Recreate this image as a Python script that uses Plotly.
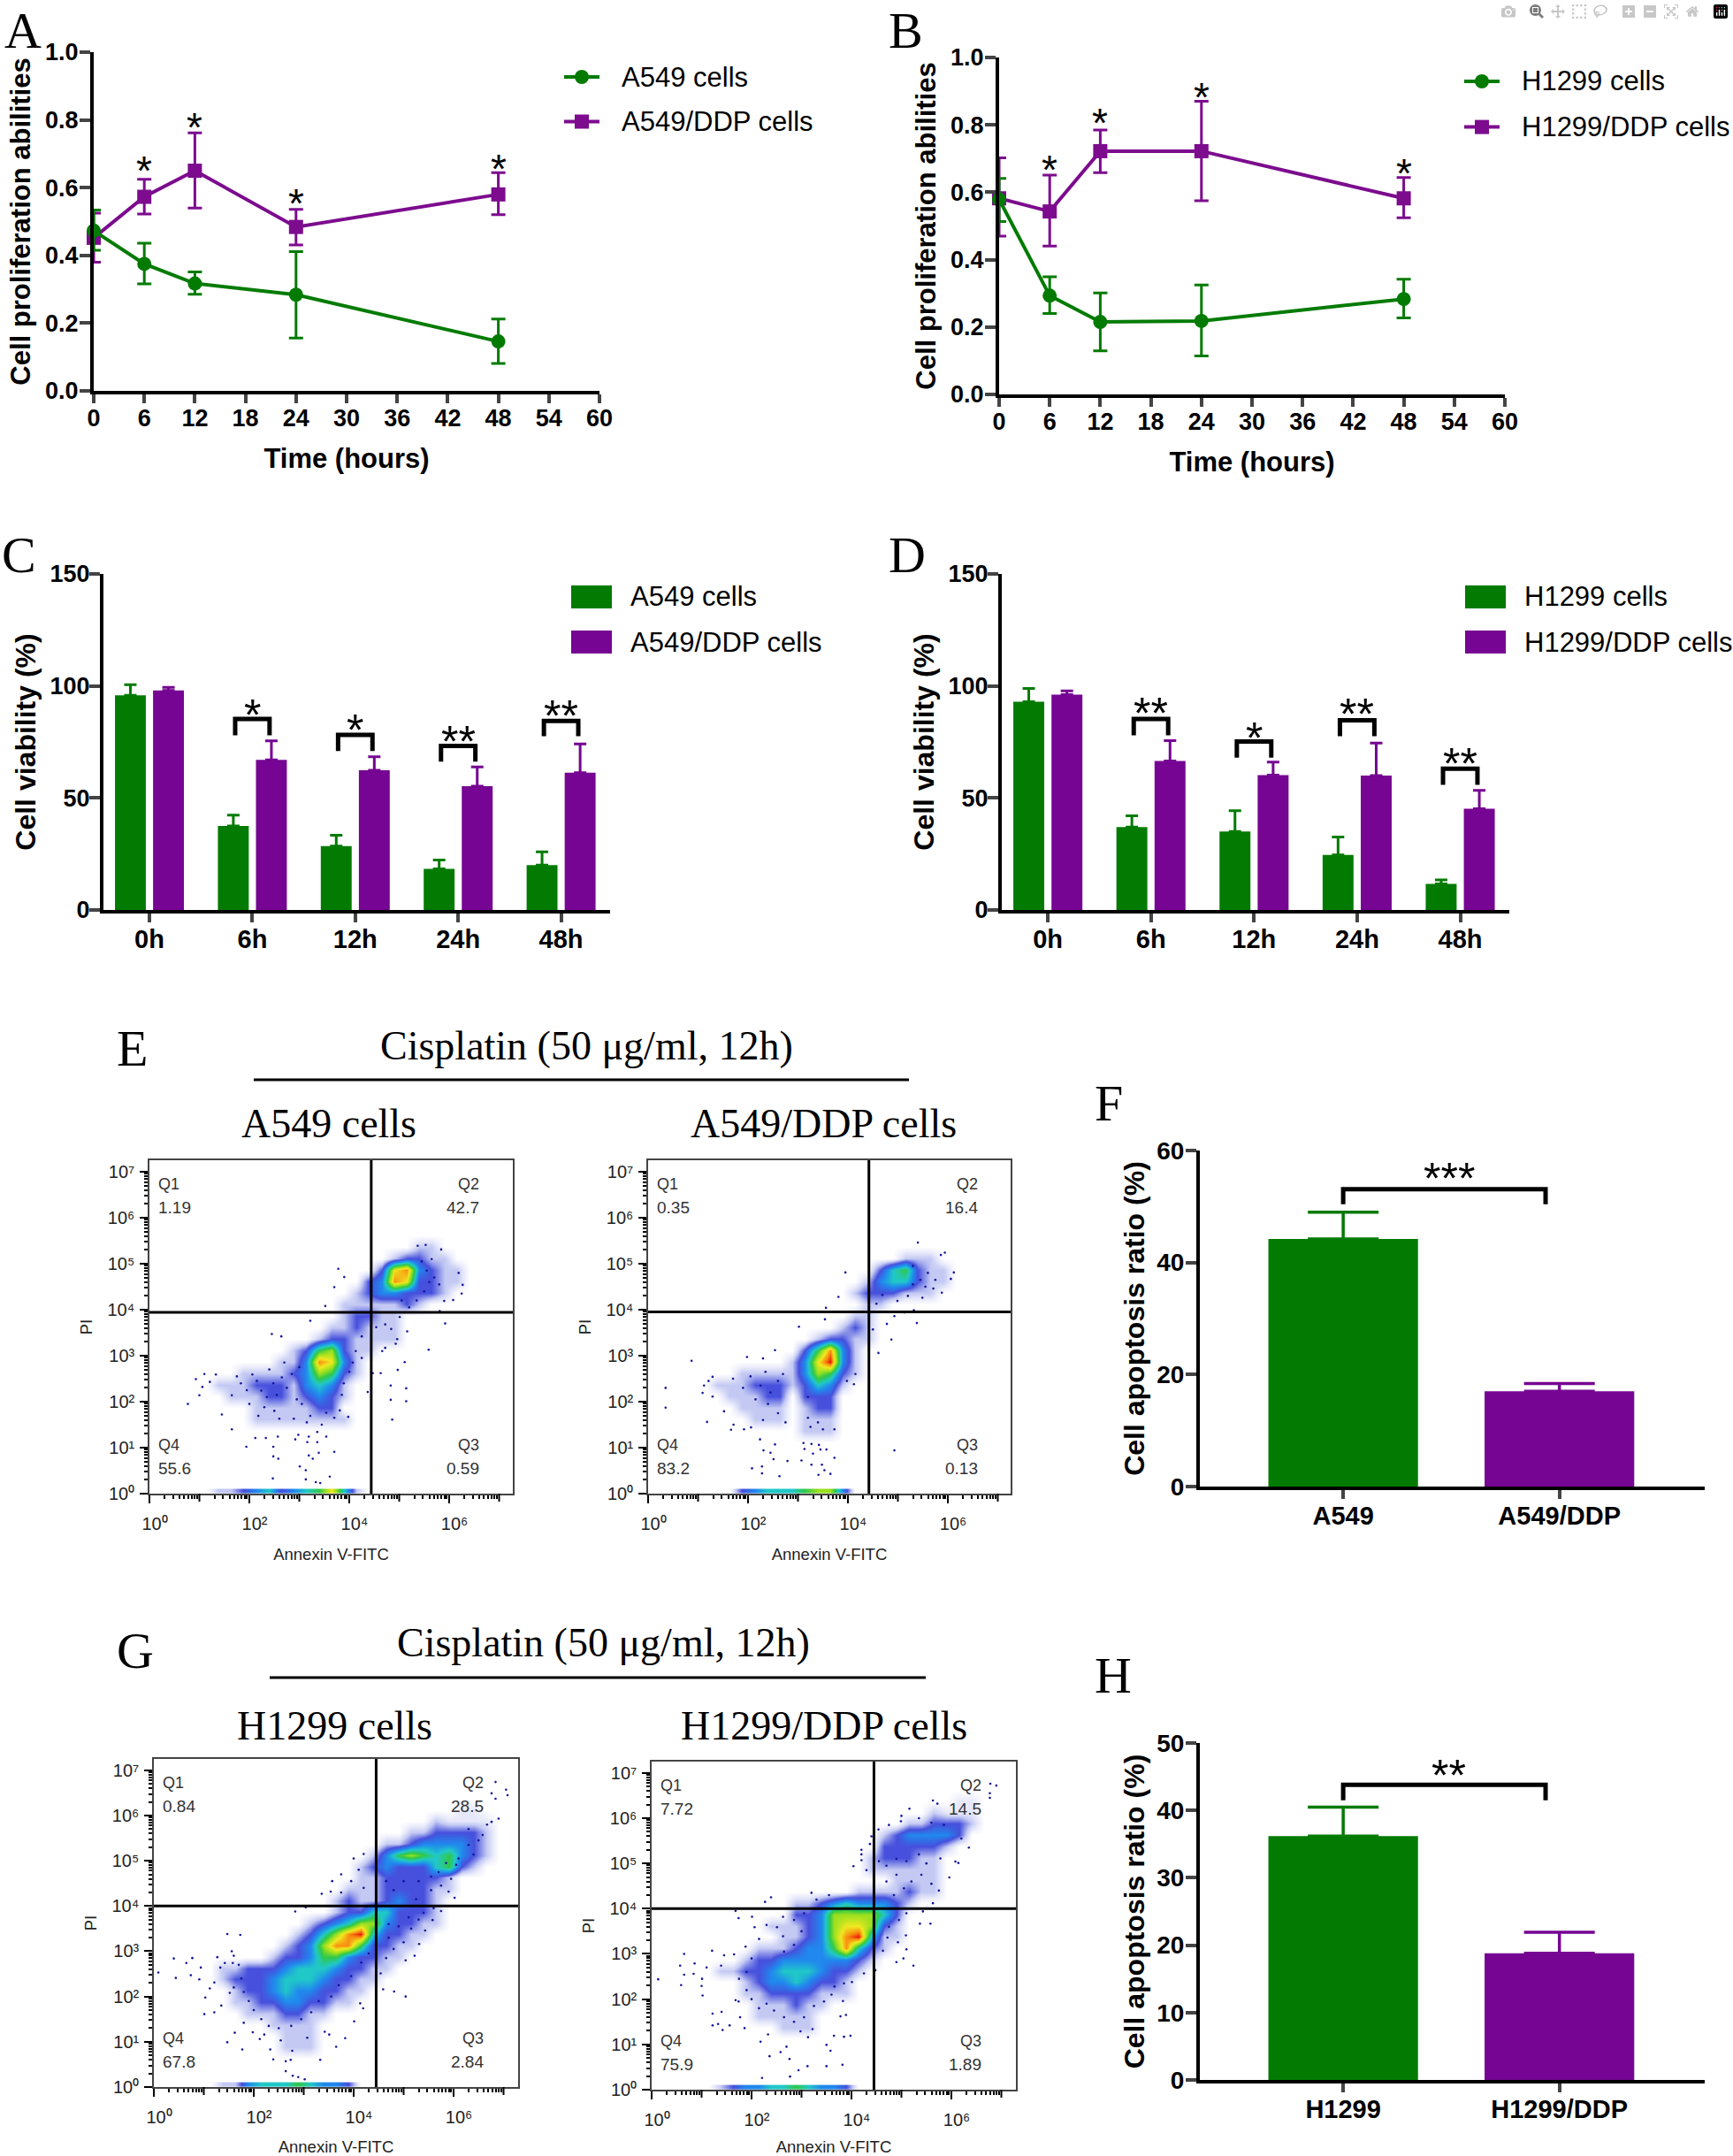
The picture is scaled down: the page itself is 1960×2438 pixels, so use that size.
import math
import plotly.graph_objects as go

W, H = 1960, 2438
GREEN = "#037b03"
PURPLE = "#750592"
LINE_PURPLE = "#7c0b8e"
SANS = "Liberation Sans"
SERIF = "Liberation Serif"

# ---------- panels A / B: proliferation ----------
hours = [0, 6, 12, 24, 48]
a_green = [0.473, 0.375, 0.317, 0.284, 0.146]
a_green_up = [0.061, 0.061, 0.034, 0.127, 0.066]
a_green_dn = [0.058, 0.059, 0.032, 0.128, 0.065]
a_purple = [0.452, 0.573, 0.650, 0.484, 0.580]
a_purple_up = [0.073, 0.052, 0.112, 0.052, 0.064]
a_purple_dn = [0.072, 0.051, 0.110, 0.053, 0.060]
a_star_x = [6, 12, 24, 48]
a_star_y = [0.673, 0.801, 0.578, 0.680]

b_green = [0.579, 0.293, 0.215, 0.218, 0.283]
b_green_up = [0.062, 0.056, 0.086, 0.107, 0.059]
b_green_dn = [0.066, 0.053, 0.086, 0.104, 0.056]
b_purple = [0.582, 0.543, 0.722, 0.722, 0.582]
b_purple_up = [0.120, 0.108, 0.063, 0.148, 0.062]
b_purple_dn = [0.112, 0.103, 0.064, 0.147, 0.058]
b_star_x = [6, 12, 24, 48]
b_star_y = [0.690, 0.830, 0.905, 0.681]

# ---------- panels C / D: viability ----------
time_labels = ["0h", "6h", "12h", "24h", "48h"]
c_green = [95.8, 37.5, 28.5, 18.4, 20.0]
c_green_err = [4.8, 4.8, 4.9, 3.9, 6.0]
c_purple = [98.0, 67.0, 62.4, 55.3, 61.3]
c_purple_err = [1.4, 8.5, 6.0, 8.5, 12.8]
c_br_idx = [1, 2, 3, 4]
c_br_top = [85.3, 78.2, 73.2, 84.4]
c_br_bot = [78.0, 71.0, 66.2, 77.6]
c_star_y = [89.7, 82.7, 77.6, 89.3]
c_star_txt = ["*", "*", "**", "**"]

d_green = [93.0, 37.0, 35.0, 24.6, 11.6]
d_green_err = [5.9, 5.0, 9.3, 8.0, 1.8]
d_purple = [96.1, 66.5, 60.2, 60.0, 45.2]
d_purple_err = [1.7, 9.1, 5.8, 14.5, 8.2]
d_br_top = [85.3, 75.2, 84.7, 63.1]
d_br_bot = [78.0, 68.0, 77.6, 55.9]
d_star_y = [90.3, 79.5, 89.9, 67.7]
d_star_txt = ["**", "*", "**", "**"]

# ---------- panels F / H: apoptosis ----------
f_cats = ["A549", "A549/DDP"]
f_vals = [44.2, 17.0]
f_errs = [4.8, 1.4]
h_cats = ["H1299", "H1299/DDP"]
h_vals = [36.2, 18.8]
h_errs = [4.3, 3.1]

# ---------- flow plots: density read by eye, row -> (first column, levels) ----------
E1_GRID = {7: (21, "11"), 8: (19, "12211"), 9: (18, "2783211"), 10: (17, "23872211"),
           11: (16, "12332221"), 12: (15, "1111121"), 13: (15, "12211"), 14: (14, "112111"),
           15: (13, "1221111"), 16: (11, "1256211"), 17: (10, "1138731"), 18: (7, "1111236521"),
           19: (5, "11122213431"), 20: (6, "1112212321"), 21: (8, "1111122"), 22: (8, "11111111")}
E2_GRID = {8: (20, "111"), 9: (18, "245211"), 10: (17, "1344211"), 11: (16, "1222111"),
           12: (17, "11"), 13: (16, "11"), 14: (15, "121"), 15: (13, "12211"), 16: (12, "25831"),
           17: (11, "137931"), 18: (7, "1111136521"), 19: (5, "11122212431"), 20: (6, "1112202220"),
           21: (7, "11110122"), 22: (8, "1110111"), 23: (12, "111")}
G1_GRID = {4: (24, "pp"), 5: (22, "1pppp"), 6: (20, "1122221"), 7: (18, "112333321"),
           8: (17, "1356545321"), 9: (16, "1232224521"), 10: (16, "11222221"), 11: (15, "111222211"),
           12: (14, "121123221"), 13: (14, "122442221"), 14: (12, "12346632211"),
           15: (11, "12468942211"), 16: (10, "12368852211"), 17: (9, "12235532211"),
           18: (5, "11222344432211"), 19: (5, "1222344432211"), 20: (6, "12234332211"),
           21: (6, "1122332211"), 22: (7, "1112211"), 23: (9, "1111"), 24: (10, "111"), 25: (10, "111")}
G2_GRID = {3: (24, "pp"), 4: (22, "1ppp"), 5: (20, "112221"), 6: (18, "1233332"), 7: (18, "222221"),
           8: (17, "122211"), 9: (17, "111111"), 10: (19, "1111"), 11: (16, "1111211"),
           12: (11, "1123433321"), 13: (11, "223666642"), 14: (9, "11123677621"),
           15: (10, "1123689411"), 16: (8, "11123358421"), 17: (7, "12233333321"),
           18: (5, "112234443221"), 19: (7, "123343221"), 20: (7, "112222111"),
           21: (8, "111211"), 22: (8, "11111"), 23: (10, "111")}
E1_STRIPE = (5, "112342345741")
E2_STRIPE = (7, "234445663")
G1_STRIPE = (5, "11344454332")
G2_STRIPE = (5, "12334454332")

# stray events: (log10 Annexin, log10 PI)
E1_DOTS = [(.77,1.95),(.93,2.49),(1.0,2.14),(1.06,2.32),(1.10,2.60),(1.21,2.43),(1.33,2.59),(1.45,1.72),
 (1.65,1.40),(1.94,1.02),(2.12,1.21),(2.33,1.21),(2.48,1.02),(2.48,.81),(2.58,.76),(2.47,.33),(3.01,.59),
 (3.13,.51),(3.13,.31),(3.33,.25),(3.42,.23),(3.61,.37),(3.19,.83),(3.27,.76),(3.39,.89),(3.70,.91),(3.19,1.24),
 (3.36,1.34),(3.54,1.24),(3.36,1.12),(3.16,1.12),(2.98,1.28),(2.92,1.18),(2.57,1.24),(2.45,3.47),(2.64,3.42),
 (3.22,3.76),(3.52,4.08),(3.70,4.49),(3.78,4.89),(3.90,4.71),(5.92,3.70),(5.59,3.13),(5.11,2.86),(4.97,2.69),
 (4.83,2.35),(5.14,2.29),(4.83,2.04),(5.14,2.01),(4.86,1.61),(4.63,2.62),(4.47,2.62),(4.37,2.21),(3.98,1.67),
 (3.81,1.81),(6.27,4.54),(6.25,4.35),(6.19,4.80),(6.08,4.21),(5.84,5.31),(5.53,5.41),(5.37,5.39),(5.81,3.97),
 (5.90,4.19),(4.66,3.10),(4.72,3.17),(4.96,3.36),(4.93,3.26),(4.84,3.58),(5.16,3.53),(4.72,3.68),(4.54,3.62),
 (5.01,3.84),(1.65,2.14),(1.83,2.40),(2.06,2.59),(2.24,2.24),(2.48,2.40),(2.65,2.53),(2.30,1.88),(2.18,1.69),
 (2.60,1.63),(2.89,1.63),(3.22,1.69),(3.54,1.76),(3.89,2.40),(4.07,2.85),(4.13,3.10),(4.25,3.42),
 (5.55,4.85),(5.70,4.70),(5.60,4.60),(5.80,4.55),(5.50,4.40),(5.35,4.20),(5.20,4.05),(5.05,4.20),(5.45,5.05),(5.65,5.10),
 (1.75,2.55),(1.95,2.25),(2.15,2.45),(2.35,2.10),(2.55,2.15),(2.75,2.30),(2.95,2.05),(2.85,2.60),(3.00,2.75),(2.70,2.85),
 (2.40,2.70),(2.00,1.95),(2.50,1.80),(3.05,1.95),(3.15,1.55),(3.45,1.50),(3.70,1.65),(3.85,2.15),(4.00,2.65),(4.25,2.95)]
E2_DOTS = [(.35,2.30),(.35,1.87),(.87,2.89),(1.09,2.19),(1.12,2.35),(1.21,2.45),(1.29,2.54),(1.29,2.11),(1.18,1.56),
 (1.52,1.79),(1.71,1.50),(1.66,1.39),(1.92,1.40),(2.06,1.44),(1.98,2.97),(2.30,2.94),(2.54,3.12),(3.02,3.63),
 (3.54,3.79),(3.56,4.04),(3.81,4.28),(3.95,4.81),(2.24,1.18),(2.31,.94),(2.45,.89),(2.54,1.07),(2.51,.75),(2.08,.55),
 (2.28,.59),(2.28,.44),(2.63,.38),(2.79,.71),(3.07,.72),(3.27,.63),(3.41,.41),(3.53,.51),(3.65,.43),(3.48,.63),
 (3.73,.78),(3.57,.96),(3.45,.96),(3.30,.87),(3.13,.97),(3.11,1.10),(3.27,1.08),(3.42,1.06),(4.93,.94),(4.87,3.35),
 (4.61,3.06),(4.50,3.57),(4.78,3.69),(5.38,3.71),(4.93,3.86),(5.13,3.94),(5.32,3.99),(4.15,2.60),(3.98,2.45),
 (4.12,2.38),(3.73,1.40),(5.40,5.46),(5.94,5.24),(5.86,5.19),(6.12,4.81),(6.06,4.67),(5.88,4.37),(5.71,4.46),
 (5.49,4.26),(4.99,4.19),(4.57,4.13),(4.69,4.32),
 (5.60,4.80),(5.45,4.65),(5.75,4.65),(5.30,4.55),(5.55,4.50),(5.20,4.30),(5.30,4.95),
 (1.70,2.50),(1.90,2.30),(2.05,2.55),(2.25,2.35),(2.45,2.20),(2.60,2.45),(2.35,2.65),(2.70,2.60),(2.15,2.05),(2.40,1.95),
 (2.60,1.75),(2.30,1.60),(2.75,1.55),(3.20,2.10),(3.20,1.65),(3.40,1.55),(3.25,1.45),(3.50,1.40)]
G1_DOTS = [(.09,2.53),(.40,2.84),(.44,2.41),(.65,2.74),(.77,2.85),(.74,2.47),(.91,2.38),(.94,2.64),(1.03,1.98),
 (1.01,1.61),(1.21,1.65),(1.12,2.18),(1.21,2.31),(1.33,2.64),(1.27,2.87),(1.47,3.38),(1.73,3.36),(1.56,3.0),
 (1.58,2.74),(1.42,2.74),(1.35,1.80),(1.52,2.08),(1.62,1.20),(1.47,.99),(1.77,.83),(1.98,1.21),(2.12,1.06),
 (2.21,1.16),(1.80,1.42),(2.39,.61),(2.33,.83),(2.64,.57),(2.64,.35),(2.78,.25),(2.89,.22),(3.02,.17),(2.74,.60),
 (3.33,.60),(3.65,.89),(3.83,1.08),(3.51,1.16),(3.42,1.22),(3.07,1.09),(2.54,1.03),(2.77,.80),(4.01,1.45),(4.19,1.74),
 (4.13,1.85),(5.04,2.0),(4.81,2.11),(4.59,2.16),(4.54,2.51),(5.04,2.80),(5.22,2.90),(5.31,3.16),(5.43,3.46),(5.58,3.69),
 (5.75,3.89),(6.02,4.18),(5.90,4.32),(3.57,4.55),(3.36,4.27),(3.54,4.32),(3.04,3.97),(2.83,3.88),(7.05,6.57),
 (7.08,6.45),(6.84,6.74),(6.84,6.37),(6.76,6.49),(6.90,5.93),(6.76,5.86),(6.67,5.80),(6.58,5.57),(6.40,5.14),(6.05,4.91),
 (1.6,2.9),(1.7,2.7),(1.75,2.4),(1.6,2.2),(1.8,2.1),(1.9,1.9),(2.0,1.7),(2.15,1.5),(2.3,1.35),(2.5,1.3),(2.75,1.35),(2.95,1.5),
 (3.15,1.65),(3.3,1.9),(3.55,2.0),(3.7,2.25),(3.95,2.45),(4.15,2.75),(4.3,2.95),(4.65,2.85),(4.8,3.05),(5.0,3.2),(4.7,3.3),
 (4.9,3.55),(5.15,3.5),(5.3,3.7),(4.7,3.6),(5.1,3.75),(5.4,3.85),(5.6,3.95),(5.25,4.15),(5.55,4.35),(5.75,4.45),(5.95,4.6),
 (5.7,4.75),(4.8,4.35),(4.65,4.55),(5.0,4.55),(5.3,4.55),(5.55,4.65),(3.75,4.3),(3.95,4.55),(4.1,4.8),(4.2,4.4),(3.75,4.7),
 (4.0,5.05),(4.2,5.15),(6.3,5.7),(6.5,5.45),(6.3,5.35),(6.1,5.05),(5.85,4.95)]
G2_DOTS = [(.13,2.44),(.59,2.31),(.57,2.74),(.65,3.0),(.65,2.54),(.86,2.79),(.84,2.56),(1.0,2.29),(1.02,2.08),(1.01,2.45),
 (1.10,2.70),(1.21,3.07),(1.22,1.68),(1.40,1.72),(1.33,1.45),(1.22,1.42),(1.42,1.32),(1.56,1.42),(1.77,1.60),(1.86,1.36),
 (1.74,1.95),(1.68,1.98),(1.39,2.74),(1.45,2.97),(1.65,2.99),(1.88,3.16),(2.15,3.33),(2.30,3.64),(2.06,3.59),(2.01,3.82),
 (1.74,3.79),(1.68,3.95),(2.27,4.15),(2.39,4.25),(2.63,3.82),(2.51,3.59),(2.63,3.39),(2.18,1.06),(2.33,1.22),(2.36,.74),
 (2.58,.83),(2.70,.95),(2.76,.68),(2.94,.43),(2.77,.29),(2.21,.26),(3.12,.52),(3.50,.52),(3.82,.55),(3.58,.86),(3.50,.99),
 (3.65,1.19),(3.85,1.17),(3.98,1.19),(3.13,1.16),(3.22,1.34),(2.98,1.29),(3.78,1.62),(3.89,1.65),(3.83,1.96),(3.66,2.28),
 (4.01,2.38),(4.25,2.57),(4.48,2.64),(4.90,2.82),(5.04,2.90),(5.24,2.74),(5.10,3.10),(4.93,3.26),(4.72,3.36),(4.63,3.07),
 (5.09,3.41),(5.37,3.67),(5.58,3.67),(5.43,3.94),(5.63,4.12),(5.96,4.69),(6.08,5.04),(6.14,5.01),(5.78,5.11),(6.90,6.72),
 (6.78,6.76),(6.77,6.55),(6.77,6.45),(5.63,6.39),(5.72,6.32),(5.16,6.21),(4.99,5.93),(4.54,5.75),(4.20,5.30),(4.20,5.20),
 (4.20,5.07),(4.04,4.94),(4.37,5.43),
 (2.0,2.9),(1.9,2.6),(1.75,2.45),(1.9,2.2),(2.0,2.0),(2.15,1.8),(2.3,1.9),(2.45,1.75),(2.65,1.6),(2.85,1.5),(3.05,1.6),(3.25,1.85),
 (3.45,1.95),(3.6,2.1),(3.85,2.35),(2.65,3.05),(2.85,3.2),(3.0,3.5),(2.85,3.75),(3.05,3.9),(3.3,4.2),(3.55,4.3),(3.2,4.35),
 (4.75,3.6),(4.95,3.75),(5.1,3.9),(4.85,4.3),(5.05,4.45),(5.2,4.6),(5.4,4.75),(5.6,4.55),(5.75,4.4),(4.7,4.6),(4.9,4.75),(4.55,5.05),
 (4.7,4.95),(4.9,5.1),(5.1,5.05),(5.35,5.2),(5.5,5.0),(4.3,4.85),(4.4,5.6),(4.75,5.85),(5.0,6.05),(5.35,6.0),(5.6,5.9),(5.85,5.85),
 (6.2,5.55),(6.35,5.35)]

E1_Q = ["1.19", "42.7", "0.59", "55.6"]
E2_Q = ["0.35", "16.4", "0.13", "83.2"]
G1_Q = ["0.84", "28.5", "2.84", "67.8"]
G2_Q = ["7.72", "14.5", "1.89", "75.9"]
X_EXP_LABELS = {0: "10⁰", 2: "10²", 4: "10⁴", 6: "10⁶"}
Y_EXP_LABELS = ["10⁰", "10¹", "10²", "10³", "10⁴", "10⁵", "10⁶", "10⁷"]

DENSITY_SCALE = [[0/9, "#ffffff"], [0.5/9, "#e6e8fa"], [1/9, "#c3c9f3"], [2/9, "#4650dc"], [3/9, "#2088ee"],
                 [4/9, "#20c8c8"], [5/9, "#30c848"], [6/9, "#9ae020"], [7/9, "#f0e820"], [8/9, "#f89010"], [1, "#e81808"]]

fig = go.Figure()
annos, shapes = [], []


def px(x):
    return x / W


def py(y):
    return 1 - y / H


def text(x, y, s, size, family=SANS, bold=False, anchor="left", color="black", angle=0):
    annos.append(dict(xref="paper", yref="paper", x=px(x), y=py(y), text=s, showarrow=False, xanchor=anchor,
                      yanchor="middle", textangle=angle,
                      font=dict(family=family, size=size, color=color, weight=700 if bold else 400)))


def axes(i, box, xkw, ykw):
    l, t, r, b = box
    fig.update_layout({
        f"xaxis{i}": dict(domain=[px(l), px(r)], anchor=f"y{i}", showgrid=False, zeroline=False, automargin=False, **xkw),
        f"yaxis{i}": dict(domain=[py(b), py(t)], anchor=f"x{i}", showgrid=False, zeroline=False, automargin=False, **ykw),
    })


def bold_font(size):
    return dict(family=SANS, size=size, color="black", weight=700)


def star(i, x, y, s, size=46, shift=-9):
    annos.append(dict(xref=f"x{i}", yref=f"y{i}", x=x, y=y, text=s, showarrow=False, xanchor="center",
                      yanchor="middle", yshift=shift, font=dict(family=SANS, size=size, color="black")))


def line_panel(i, box, green, gu, gd, purple, pu, pd, star_x, star_y, names, title_standoff):
    for vals, up, dn, col, sym, name in [(purple, pu, pd, LINE_PURPLE, "square", names[1]),
                                         (green, gu, gd, GREEN, "circle", names[0])]:
        fig.add_trace(go.Scatter(x=hours, y=vals, mode="lines+markers", name=name, showlegend=False,
                                 cliponaxis=False, xaxis=f"x{i}", yaxis=f"y{i}",
                                 line=dict(color=col, width=4), marker=dict(symbol=sym, size=16, color=col),
                                 error_y=dict(type="data", symmetric=False, array=up, arrayminus=dn,
                                              color=col, thickness=3, width=8)))
    axes(i, box,
         dict(range=[0, 60], tickvals=list(range(0, 61, 6)), ticks="outside", ticklen=10, tickwidth=4,
              ticklabelstandoff=-6, showline=True, linewidth=4, linecolor="black", tickfont=bold_font(27),
              title=dict(text="Time (hours)", font=bold_font(31), standoff=21)),
         dict(range=[0, 1], tickvals=[0, .2, .4, .6, .8, 1], tickformat=".1f", ticks="outside", ticklen=12,
              ticklabelstandoff=-4, tickwidth=4, showline=True, linewidth=4, linecolor="black", tickfont=bold_font(27),
              title=dict(text="Cell proliferation abilities", font=bold_font(31), standoff=title_standoff)))
    for x, y in zip(star_x, star_y):
        star(i, x, y, "*")


def bar_panel(i, box, green, ge, purple, pe, br_top, br_bot, star_y, star_txt, names):
    idx = list(range(len(time_labels)))
    fig.add_trace(go.Bar(x=idx, y=green, name=names[0], width=0.30, offset=-0.335, marker=dict(color=GREEN, line=dict(width=0)),
                         xaxis=f"x{i}", yaxis=f"y{i}", showlegend=False,
                         error_y=dict(type="data", symmetric=False, array=ge, arrayminus=[0] * 5, color=GREEN, thickness=3, width=7)))
    fig.add_trace(go.Bar(x=idx, y=purple, name=names[1], width=0.30, offset=0.035, marker=dict(color=PURPLE, line=dict(width=0)),
                         xaxis=f"x{i}", yaxis=f"y{i}", showlegend=False,
                         error_y=dict(type="data", symmetric=False, array=pe, arrayminus=[0] * 5, color=PURPLE, thickness=3, width=7)))
    bx, by = [], []
    for k, top, bot in zip(c_br_idx, br_top, br_bot):
        bx += [k - .167, k - .167, k + .167, k + .167, None]
        by += [bot, top, top, bot, None]
    fig.add_trace(go.Scatter(x=bx, y=by, mode="lines", line=dict(color="black", width=5), showlegend=False,
                             xaxis=f"x{i}", yaxis=f"y{i}"))
    for k, y, s in zip(c_br_idx, star_y, star_txt):
        star(i, k, y, s, size=50, shift=-7)
    axes(i, box,
         dict(range=[-0.447, 4.476], tickvals=idx, ticktext=time_labels, ticks="outside", ticklen=10, tickwidth=4,
              ticklabelstandoff=-6, showline=True, linewidth=4, linecolor="black", tickfont=bold_font(29)),
         dict(range=[0, 150], tickvals=[0, 50, 100, 150], ticks="outside", ticklen=12, tickwidth=4,
              ticklabelstandoff=-6, showline=True, linewidth=4, linecolor="black", tickfont=bold_font(27),
              title=dict(text="Cell viability (%)", font=bold_font(32), standoff=7)))


def two_bar(i, box, cats, vals, errs, br_top, br_bot, star_y, star_txt, yrange, ytickvals):
    fig.add_trace(go.Bar(x=[0, 1], y=vals, width=0.692, marker=dict(color=[GREEN, PURPLE], line=dict(width=0)),
                         xaxis=f"x{i}", yaxis=f"y{i}", showlegend=False))
    for k, col in enumerate([GREEN, PURPLE]):
        fig.add_trace(go.Scatter(x=[k], y=[vals[k]], mode="markers", marker=dict(size=1, color=col), showlegend=False,
                                 xaxis=f"x{i}", yaxis=f"y{i}",
                                 error_y=dict(type="data", symmetric=False, array=[errs[k]], arrayminus=[0],
                                              color=col, thickness=3.5, width=40)))
    fig.add_trace(go.Scatter(x=[0, 0, .936, .936], y=[br_bot, br_top, br_top, br_bot], mode="lines",
                             line=dict(color="black", width=5), showlegend=False, xaxis=f"x{i}", yaxis=f"y{i}"))
    star(i, .49, star_y, star_txt, size=50, shift=-7)
    axes(i, box,
         dict(range=[-0.663, 1.672], tickvals=[0, 1], ticktext=cats, ticks="outside", ticklen=10, tickwidth=4,
              ticklabelstandoff=-6, showline=True, linewidth=4, linecolor="black", tickfont=bold_font(29)),
         dict(range=yrange, tickvals=ytickvals, ticks="outside", ticklen=12, tickwidth=4,
              ticklabelstandoff=-4, showline=True, linewidth=4, linecolor="black", tickfont=bold_font(28),
              title=dict(text="Cell apoptosis ratio (%)", font=bold_font(32), standoff=5)))


def flow_panel(i, box, grid, stripe, dots, vq, hq, labels, q_rows):
    l, t, r, b = box
    ncell = 30
    xc = [0.2513 * (c + .5) for c in range(ncell)]
    top = 7.25
    yc = [top - 0.25 * (k + .5) for k in range(ncell)]
    z = [[0.0] * ncell for _ in range(ncell)]
    for row, (c0, s) in grid.items():
        for k, ch in enumerate(s):
            z[row][c0 + k] = 0.5 if ch == "p" else float(ch)
    fig.add_trace(go.Heatmap(x=xc, y=yc, z=z, colorscale=DENSITY_SCALE, zmin=0, zmax=9, zsmooth="best",
                             showscale=False, xaxis=f"x{i}", yaxis=f"y{i}", hoverinfo="skip"))
    row_z = [0.0] * ncell
    for k, ch in enumerate(stripe[1]):
        row_z[stripe[0] + k] = float(ch)
    fig.add_trace(go.Heatmap(x=xc, y=[0.0, 0.07], z=[row_z, row_z], colorscale=DENSITY_SCALE, zmin=0, zmax=9,
                             zsmooth="best", showscale=False, xaxis=f"x{i}", yaxis=f"y{i}", hoverinfo="skip"))
    fig.add_trace(go.Scatter(x=[d[0] for d in dots], y=[d[1] for d in dots], mode="markers", showlegend=False,
                             marker=dict(size=2.6, color="#15159a"), xaxis=f"x{i}", yaxis=f"y{i}"))
    minor = [k + math.log10(m) for k in range(8) for m in range(2, 10) if k + math.log10(m) < 7.2]
    common = dict(ticks="outside", ticklen=9, tickwidth=2, showline=True, mirror=True, linewidth=1.5,
                  linecolor="#444444", tickfont=dict(family=SANS, size=20, color="#222222"),
                  minor=dict(tickvals=minor, ticks="outside", ticklen=4, tickwidth=1.5, tickcolor="black"),
                  tickcolor="black")
    axes(i, box,
         dict(range=[0, (r - l) / 56.5], tickvals=list(X_EXP_LABELS), ticktext=list(X_EXP_LABELS.values()),
              ticklabelstandoff=6, ticklabelshift=6,
              title=dict(text="Annexin V-FITC", font=dict(family=SANS, size=18.5, color="#222222"), standoff=18),
              **common),
         dict(range=[0, top], tickvals=list(range(8)), ticktext=Y_EXP_LABELS, ticklabelstandoff=2,
              title=dict(text="PI", font=dict(family=SANS, size=18.5, color="#222222"), standoff=12), **common))
    xn, yn = f"x{i}", f"y{i}"
    for k in (1, 3, 5, 7):
        shapes.append(dict(type="line", xref=xn, yref=f"{yn} domain", x0=k, x1=k, y0=0, y1=-9 / (b - t), line=dict(color="black", width=2)))
    shapes.append(dict(type="line", xref=xn, yref=f"{yn} domain", x0=vq, x1=vq, y0=0, y1=1, line=dict(color="black", width=3)))
    shapes.append(dict(type="line", xref=f"{xn} domain", yref=yn, x0=0, x1=1, y0=hq, y1=hq, line=dict(color="black", width=3)))
    q_txt = ["Q1", "Q2", "Q3", "Q4"]
    pos = [(l + 8, "left", q_rows[0]), (l + 375, "right", q_rows[0]), (l + 375, "right", q_rows[1]), (l + 8, "left", q_rows[1])]
    for name, val, (x, an, (y1, y2)) in zip(q_txt, labels, pos):
        text(x, t + y1, name, 18, anchor=an, color="#333333")
        text(x, t + y2, val, 19, anchor=an, color="#333333")


# ----- build -----
line_panel(1, (106, 59, 678, 442), a_green, a_green_up, a_green_dn, a_purple, a_purple_up, a_purple_dn,
           a_star_x, a_star_y, ["A549 cells", "A549/DDP cells"], 8)
line_panel(2, (1130, 65, 1702, 446), b_green, b_green_up, b_green_dn, b_purple, b_purple_up, b_purple_dn,
           b_star_x, b_star_y, ["H1299 cells", "H1299/DDP cells"], 8)
bar_panel(3, (117, 649, 690, 1029), c_green, c_green_err, c_purple, c_purple_err, c_br_top, c_br_bot, c_star_y, c_star_txt,
          ["A549 cells", "A549/DDP cells"])
bar_panel(4, (1133, 649, 1707, 1029), d_green, d_green_err, d_purple, d_purple_err, d_br_top, d_br_bot, d_star_y, d_star_txt,
          ["H1299 cells", "H1299/DDP cells"])
flow_panel(5, (169, 1312, 580, 1689), E1_GRID, E1_STRIPE, E1_DOTS, 4.44, 3.94, E1_Q, ((27, 53), (322, 348)))
flow_panel(6, (733, 1312, 1143, 1689), E2_GRID, E2_STRIPE, E2_DOTS, 4.42, 3.95, E2_Q, ((27, 53), (322, 348)))
flow_panel(7, (174, 1989, 586, 2360), G1_GRID, G1_STRIPE, G1_DOTS, 4.45, 4.0, G1_Q, ((27, 53), (316, 342)))
flow_panel(8, (737, 1992, 1149, 2363), G2_GRID, G2_STRIPE, G2_DOTS, 4.45, 4.0, G2_Q, ((27, 53), (316, 342)))
two_bar(9, (1357, 1301, 1928, 1681), f_cats, f_vals, f_errs, 53.1, 50.4, 56.0, "***", [0, 60], [0, 20, 40, 60])
two_bar(10, (1357, 1971, 1928, 2352), h_cats, h_vals, h_errs, 43.8, 41.5, 46.1, "**", [0, 50], [0, 10, 20, 30, 40, 50])

# legends for A-D
for x0, x1, tx, ys, names in [(638, 678, 701, (87, 137.5), ("A549 cells", "A549/DDP cells")),
                              (1656, 1696, 1719, (92, 143.6), ("H1299 cells", "H1299/DDP cells"))]:
    for y, name, col, kind in zip(ys, names, (GREEN, LINE_PURPLE), ("circle", "rect")):
        shapes.append(dict(type="line", xref="paper", yref="paper", x0=px(x0), x1=px(x1), y0=py(y), y1=py(y), line=dict(color=col, width=4)))
        mid = (x0 + x1) / 2
        shapes.append(dict(type=kind, xref="paper", yref="paper", x0=px(mid - 8), x1=px(mid + 8), y0=py(y - 8), y1=py(y + 8),
                           fillcolor=col, line=dict(width=0)))
        text(tx, y, name, 31)
for x0, x1, tx, names in [(646, 692, 711, ("A549 cells", "A549/DDP cells")),
                          (1657, 1703, 1722, ("H1299 cells", "H1299/DDP cells"))]:
    for (y0, y1), name, col in zip(((662, 688), (713, 739)), names, (GREEN, PURPLE)):
        shapes.append(dict(type="rect", xref="paper", yref="paper", x0=px(x0), x1=px(x1), y0=py(y0), y1=py(y1), fillcolor=col, line=dict(width=0)))
        text(tx, (y0 + y1) / 2, name, 31)

# panel letters
for s, x, y in [("A", 3, 34), ("B", 1003, 34), ("C", 0, 628), ("D", 1003, 628), ("E", 130, 1185), ("F", 1236, 1247),
                ("G", 130, 1866), ("H", 1236, 1894)]:
    text(x, y, s, 58, family=SERIF)

# headings over flow plots
for s, x, y in [("Cisplatin (50 μg/ml, 12h)", 663, 1183), ("Cisplatin (50 μg/ml, 12h)", 682, 1857),
                ("A549 cells", 372, 1270), ("A549/DDP cells", 931, 1270), ("H1299 cells", 378, 1951), ("H1299/DDP cells", 932, 1951)]:
    text(x, y, s, 46, family=SERIF, anchor="center")
for x0, x1, y in [(287, 1028, 1221), (305, 1047, 1897)]:
    shapes.append(dict(type="line", xref="paper", yref="paper", x0=px(x0), x1=px(x1), y0=py(y), y1=py(y), line=dict(color="black", width=3)))

fig.update_layout(width=W, height=H, margin=dict(l=0, r=0, t=0, b=0, pad=0), autosize=False, paper_bgcolor="white",
                  plot_bgcolor="rgba(0,0,0,0)", annotations=annos, shapes=shapes, barmode="overlay", showlegend=False,
                  font=dict(family=SANS, color="black"))
fig.write_html("out.html", post_script="document.body.style.margin='0';document.body.style.overflow='hidden';")
